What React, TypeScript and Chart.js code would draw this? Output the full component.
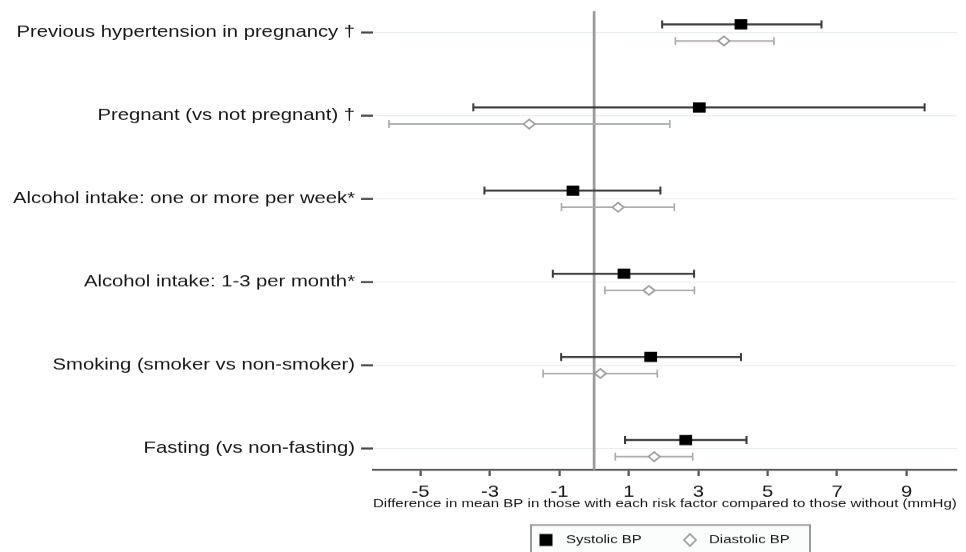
import React, { useEffect, useRef } from "react";
import { Chart, registerables } from "chart.js";

Chart.register(...registerables);

// ---------- data ----------
const categories = [
  "Previous hypertension in pregnancy †",
  "Pregnant (vs not pregnant) †",
  "Alcohol intake: one or more per week*",
  "Alcohol intake: 1-3 per month*",
  "Smoking (smoker vs non-smoker)",
  "Fasting (vs non-fasting)",
];
const systolic = [4.23, 3.03, -0.61, 0.86, 1.63, 2.64];
const systolicLo = [1.96, -3.48, -3.16, -1.19, -0.95, 0.89];
const systolicHi = [6.55, 9.52, 1.91, 2.88, 4.23, 4.39];
const diastolic = [3.74, -1.87, 0.69, 1.58, 0.18, 1.73];
const diastolicLo = [2.34, -5.91, -0.94, 0.31, -1.47, 0.61];
const diastolicHi = [5.18, 2.18, 2.31, 2.89, 1.82, 2.84];
const xTickValues = [-5, -3, -1, 1, 3, 5, 7, 9];
const seriesLabels = ["Systolic BP", "Diastolic BP"];
const xTitle =
  "Difference in mean BP in those with each risk factor compared to those without (mmHg)";
const referenceX = 0;

// ---------- layout / style constants ----------
const X_MIN = -6.37;
const X_MAX = 10.45;
const Y_MIN = -0.26;
const Y_MAX = 5.26;
const ROW_OFFSET = 0.1;
const LOGICAL_W = 773;
const H = 552;
const STRETCH = 1.25; // the reference is horizontally stretched
const FONT = "'Liberation Sans', Arial, sans-serif";
const TEXT = "#161616";

function ciSegments(lo: number[], hi: number[], off: number) {
  const out: { x: number | null; y: number | null }[] = [];
  lo.forEach((l, i) => {
    out.push({ x: l, y: i + off }, { x: hi[i], y: i + off }, { x: null, y: null });
  });
  return out;
}

const boxLegend = {
  id: "boxLegend",
  afterDraw(chart: any) {
    const ctx = chart.ctx as CanvasRenderingContext2D;
    const ds = chart.data.datasets;
    ctx.save();
    ctx.fillStyle = "#fbfcfc";
    ctx.fillRect(424.8, 525, 223.2, 40);
    ctx.strokeStyle = "#9a9a9a";
    ctx.lineWidth = 1.6;
    ctx.strokeRect(424.8, 525, 223.2, 40);
    const cy = 540;
    ctx.fillStyle = ds[0].backgroundColor;
    ctx.fillRect(436.8 - 5.2, cy - 6, 10.4, 12);
    ctx.beginPath();
    ctx.moveTo(552 - 4.8, cy);
    ctx.lineTo(552, cy - 6);
    ctx.lineTo(552 + 4.8, cy);
    ctx.lineTo(552, cy + 6);
    ctx.closePath();
    ctx.fillStyle = "#fff";
    ctx.fill();
    ctx.strokeStyle = ds[1].borderColor;
    ctx.lineWidth = 1.5;
    ctx.stroke();
    ctx.fillStyle = TEXT;
    ctx.font = `12px ${FONT}`;
    ctx.textBaseline = "middle";
    ctx.textAlign = "left";
    ctx.fillText(ds[0].label, 452.8, cy);
    ctx.fillText(ds[1].label, 567.2, cy);
    ctx.restore();
  },
};

export default function App() {
  const canvasRef = useRef<HTMLCanvasElement | null>(null);

  useEffect(() => {
    const canvas = canvasRef.current;
    if (!canvas) return;
    Chart.defaults.font.family = FONT;

    const chart = new Chart(canvas, {
      type: "scatter",
      data: {
        datasets: [
          {
            label: seriesLabels[0],
            data: systolic.map((v, i) => ({ x: v, y: i - ROW_OFFSET })),
            pointStyle: "rect",
            pointRadius: 6.5,
            backgroundColor: "#000000",
            borderColor: "#000000",
            borderWidth: 1,
            order: 0,
          },
          {
            label: seriesLabels[1],
            data: diastolic.map((v, i) => ({ x: v, y: i + ROW_OFFSET })),
            pointStyle: "rectRot",
            pointRadius: 4.6,
            backgroundColor: "#ffffff",
            borderColor: "#9c9c9c",
            borderWidth: 1.5,
            order: 0,
          },
          {
            label: "Systolic CI",
            data: ciSegments(systolicLo, systolicHi, -ROW_OFFSET),
            showLine: true,
            spanGaps: false,
            borderColor: "#3a3a3a",
            borderWidth: 2,
            pointStyle: "line",
            pointRotation: 90,
            pointRadius: 4,
            pointBorderColor: "#3a3a3a",
            pointBorderWidth: 1.6,
            order: 1,
          },
          {
            label: "Diastolic CI",
            data: ciSegments(diastolicLo, diastolicHi, ROW_OFFSET),
            showLine: true,
            spanGaps: false,
            borderColor: "#ababab",
            borderWidth: 1.6,
            pointStyle: "line",
            pointRotation: 90,
            pointRadius: 4,
            pointBorderColor: "#ababab",
            pointBorderWidth: 1.3,
            order: 1,
          },
          {
            label: "Reference",
            data: [
              { x: referenceX, y: Y_MIN },
              { x: referenceX, y: Y_MAX },
            ],
            showLine: true,
            borderColor: "#9a9a9a",
            borderWidth: 2.2,
            pointRadius: 0,
            order: 2,
          },
        ],
      },
      options: {
        animation: false,
        responsive: false,
        devicePixelRatio: STRETCH,
        events: [],
        layout: { padding: { top: 11, left: 0, right: 0, bottom: 0 } },
        plugins: {
          legend: { display: false },
          tooltip: { enabled: false },
        },
        scales: {
          x: {
            type: "linear",
            min: X_MIN,
            max: X_MAX,
            afterBuildTicks: (s: any) => {
              s.ticks = xTickValues.map((v) => ({ value: v }));
            },
            afterFit: (s: any) => {
              s.height = H - 470;
              s.paddingLeft = 0;
              s.paddingRight = 0;
            },
            border: { display: true, color: "#555555", width: 2 },
            grid: {
              display: true,
              drawOnChartArea: false,
              drawTicks: true,
              tickLength: 6,
              tickColor: "#555555",
              tickWidth: 1.8,
            },
            ticks: {
              autoSkip: false,
              maxRotation: 0,
              padding: 6.5,
              color: TEXT,
              font: { size: 16.2 },
              callback: (v: any) => String(v),
            },
            title: {
              display: true,
              text: xTitle,
              color: TEXT,
              font: { size: 12.4 },
              padding: { top: 0, bottom: 41 },
            },
          },
          y: {
            type: "linear",
            reverse: true,
            min: Y_MIN,
            max: Y_MAX,
            afterBuildTicks: (s: any) => {
              s.ticks = categories.map((_, i) => ({ value: i }));
            },
            afterFit: (s: any) => {
              s.width = 298.4;
              s.paddingTop = 0;
              s.paddingBottom = 0;
            },
            border: { display: false },
            grid: {
              display: true,
              drawOnChartArea: true,
              color: "#e6eef0",
              lineWidth: 1,
              drawTicks: true,
              tickLength: 9.6,
              tickColor: "#444444",
              tickWidth: 2,
            },
            ticks: {
              autoSkip: false,
              padding: 4.8,
              color: TEXT,
              font: { size: 16.2 },
              callback: (v: any) => categories[Math.round(Number(v))] ?? "",
            },
          },
        },
      },
      plugins: [boxLegend],
    } as any);

    return () => chart.destroy();
  }, []);

  return (
    <div style={{ position: "fixed", left: 0, top: 0, width: 966, height: H, background: "#fff" }}>
      <canvas
        ref={canvasRef}
        width={LOGICAL_W}
        height={H}
        style={{ width: "966px", height: `${H}px`, display: "block" }}
      />
    </div>
  );
}
